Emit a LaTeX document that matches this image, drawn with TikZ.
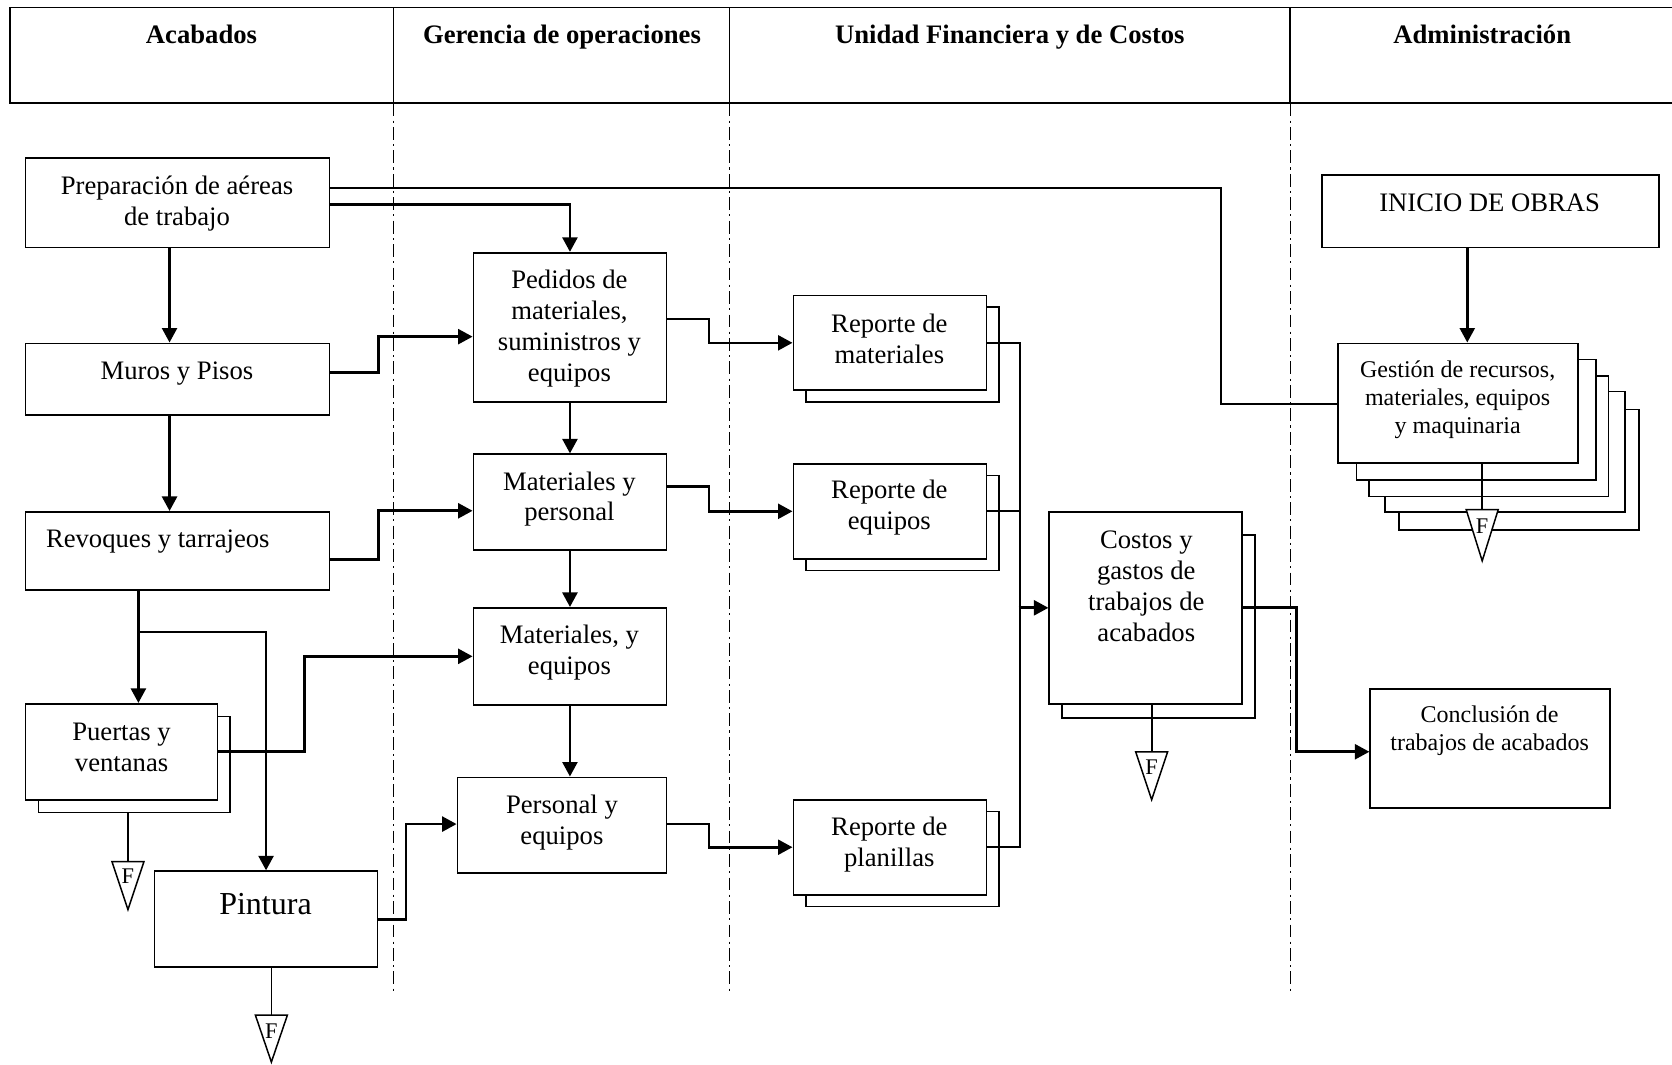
\documentclass[tikz,border=0pt]{standalone}
\usepackage{fontspec}
\setmainfont{Liberation Serif}
\usetikzlibrary{arrows.meta,calc}
\begin{document}
\begin{tikzpicture}[x=0.5pt,y=-0.5pt,
 box/.style={draw, fill=white, line width=0.8pt, inner sep=0pt},
 txt/.style={align=center, font=\fontsize{12.5}{14.5}\selectfont, inner sep=0pt},
 stxt/.style={align=center, font=\fontsize{11.25}{13}\selectfont, inner sep=0pt},
 hdr/.style={font=\fontsize{12.5}{14.5}\selectfont\bfseries, inner sep=0pt, anchor=base},
 arr/.style={line width=1.25pt, -{Triangle[length=6.8pt,width=7pt]}},
 thinl/.style={line width=0.8pt},
 lane/.style={line width=0.55pt, dash pattern=on 6pt off 2pt on 1pt off 2pt},
 tri/.style={draw, fill=white, line width=0.7pt},
 ftxt/.style={font=\fontsize{10.5}{12}\selectfont, inner sep=0pt}]
\useasboundingbox (0,0) rectangle (1568,998);

% lanes
\foreach \x in {369,684,1210}{
  \draw[line width=0.8pt] (\x,7) -- (\x,97);
  \draw[lane] (\x,97) -- (\x,930);
}
\draw[line width=0.9pt] (1568,7) -- (9,7) -- (9,97) -- (1568,97);
\node[hdr] (h1) at (189,41) {Acabados};
\node[hdr] (h2) at (527,41) {Gerencia de operaciones};
\node[hdr] (h3) at (947,41) {Unidad Financiera y de Costos};
\node[hdr] (h4) at (1390,41) {Administración};

% Acabados lane
\node[box, minimum width=142.5pt, minimum height=42pt] (prep) at (166.5,190) {};
\node[txt] (prep-t) at (166,191) {Preparación de aéreas\\de trabajo};
\node[box, minimum width=142.5pt, minimum height=33.5pt] (muros) at (166.5,355.5) {};
\node[txt] (muros-t) at (166,350) {Muros y Pisos};
\node[box, minimum width=142.5pt, minimum height=36.5pt] (revoq) at (166.5,516.5) {};
\node[txt] (revoq-t) at (148,508) {Revoques y tarrajeos};
\node[box, minimum width=90pt, minimum height=45pt] (puertas-b) at (126,717) {};
\node[box, minimum width=90pt, minimum height=45pt] (puertas) at (114,705) {};
\node[txt] (puertas-t) at (114,701) {Puertas y\\ventanas};
\node[box, minimum width=104.5pt, minimum height=45pt] (pintura) at (249.5,862) {};
\node[txt, font=\fontsize{15}{17}\selectfont] (pintura-t) at (249,848) {Pintura};

% Gerencia lane
\node[box, minimum width=90.5pt, minimum height=70pt] (pedidos) at (534.5,307) {};
\node[txt] (pedidos-t) at (534,308) {Pedidos de\\materiales,\\suministros y\\equipos};
\node[box, minimum width=90.5pt, minimum height=45pt] (matpers) at (534.5,471) {};
\node[txt] (matpers-t) at (534,468) {Materiales y\\personal};
\node[box, minimum width=90.5pt, minimum height=45.5pt] (mateq) at (534.5,615.5) {};
\node[txt] (mateq-t) at (534,612) {Materiales, y\\equipos};
\node[box, minimum width=98pt, minimum height=45pt] (perseq) at (527,774) {};
\node[txt] (perseq-t) at (527,771) {Personal y\\equipos};

% Unidad financiera lane
\node[box, minimum width=90.5pt, minimum height=44.5pt] (repmat-b) at (846.5,332.5) {};
\node[box, minimum width=90.5pt, minimum height=44.5pt] (repmat) at (834.5,321.5) {};
\node[txt] (repmat-t) at (834,317.5) {Reporte de\\materiales};
\node[box, minimum width=90.5pt, minimum height=44.5pt] (repeq-b) at (846.5,490.5) {};
\node[box, minimum width=90.5pt, minimum height=44.5pt] (repeq) at (834.5,479.5) {};
\node[txt] (repeq-t) at (834,476) {Reporte de\\equipos};
\node[box, minimum width=90.5pt, minimum height=44.5pt] (repplan-b) at (846.5,805.5) {};
\node[box, minimum width=90.5pt, minimum height=44.5pt] (repplan) at (834.5,794.5) {};
\node[txt] (repplan-t) at (834,792) {Reporte de\\planillas};
\node[box, minimum width=90.5pt, minimum height=85.5pt] (costos-b) at (1086.5,587.5) {};
\node[box, minimum width=90.5pt, minimum height=90pt] (costos) at (1074.5,570) {};
\node[txt] (costos-t) at (1075,549.5) {Costos y\\gastos de\\trabajos de\\acabados};

% Administracion lane
\node[box, minimum width=158pt, minimum height=34pt] (inicio) at (1398,198) {};
\node[txt] (inicio-t) at (1397,190.5) {INICIO DE OBRAS};
\node[box, minimum width=112.5pt, minimum height=56.5pt] (gestion-b4) at (1424.5,440.5) {};
\node[box, minimum width=112.5pt, minimum height=56.5pt] (gestion-b3) at (1411.5,423.5) {};
\node[box, minimum width=112.5pt, minimum height=56.5pt] (gestion-b2) at (1396,409) {};
\node[box, minimum width=112.5pt, minimum height=56.5pt] (gestion-b1) at (1384.5,393.5) {};
\node[box, minimum width=112.5pt, minimum height=56pt] (gestion) at (1367.5,378) {};
\node[stxt] (gestion-t) at (1367,375) {Gestión de recursos,\\materiales, equipos\\y maquinaria};
\node[box, minimum width=112.5pt, minimum height=56pt] (concl) at (1397.5,702) {};
\node[stxt] (concl-t) at (1397,685) {Conclusión de\\trabajos de acabados};

% connectors
\draw[arr] ([xshift=-3.75pt]prep.south) -- ([xshift=-3.75pt]muros.north);
\draw[arr] ([xshift=-3.75pt]muros.south) -- ([xshift=-3.75pt]revoq.north);
\draw[arr] ([yshift=-0.8pt]prep.east) -| (pedidos.north);
\draw[thinl] ([yshift=6.7pt]prep.east) -| ([xshift=-54.5pt,yshift=-0.5pt]gestion.west) -- ([yshift=-0.5pt]gestion.west);
\draw[arr] ([yshift=3pt]muros.east) -- ++(22.5pt,0pt) |- ([yshift=-4.35pt]pedidos.west);
\draw[arr] ([yshift=-4pt]revoq.east) -- ++(22.5pt,0pt) |- ([yshift=-4pt]matpers.west);
\draw[arr] ([xshift=-18.35pt]revoq.south) -- ([xshift=-18.35pt]revoq.south |- puertas.north);
\draw[arr] ([xshift=-18.35pt,yshift=-19.5pt]revoq.south) -| (pintura.north);
\draw[arr] (puertas.east) -- ++(40.35pt,0pt) |- (mateq.west);
\draw[arr] (pintura.east) -- ++(13pt,0pt) |- ([yshift=0.6pt]perseq.west);
\draw[arr] (pedidos.south) -- (matpers.north);
\draw[arr] (matpers.south) -- (mateq.north);
\draw[arr] (mateq.south) -- (mateq.south |- perseq.north);
\draw[arr] ([yshift=4pt]pedidos.east) -- ++(19.5pt,0pt) |- (repmat.west);
\draw[arr] ([yshift=7.3pt]matpers.east) -- ++(19.5pt,0pt) |- (repeq.west);
\draw[arr] ([yshift=0.6pt]perseq.east) -- ++(19.5pt,0pt) |- (repplan.west);
\draw[thinl] (repmat.east) -- ++(15.5pt,0pt) |- (repplan.east);
\draw[thinl] (repeq.east) -- ++(15.5pt,0pt);
\draw[arr] ([xshift=-14pt]costos.west) -- (costos.west);
\draw[arr] (costos.east) -- ++(25pt,0pt) |- ([yshift=-1.5pt]concl.west);
\draw[arr] ([xshift=-11pt]inicio.south) -- ([xshift=-11pt]inicio.south |- gestion.north);

% F terminators
\coordinate (ft1) at (120,808);
\coordinate (ft2) at (254.5,952);
\coordinate (ft3) at (1080,705);
\coordinate (ft4) at (1390,478);
\draw[thinl] (puertas-b.south -| ft1) -- (ft1);
\draw[thinl] (pintura.south -| ft2) -- (ft2);
\draw[thinl] (costos.south -| ft3) -- (ft3);
\draw[thinl] (gestion.south -| ft4) -- (ft4);
\draw[tri] (ft1) ++(-15,0) -- ++(30,0) -- ++(-15,45) -- cycle;
\draw[tri] (ft2) ++(-15,0) -- ++(30,0) -- ++(-15,44) -- cycle;
\draw[tri] (ft3) ++(-15,0) -- ++(30,0) -- ++(-15,45) -- cycle;
\draw[tri] (ft4) ++(-15,0) -- ++(30,0) -- ++(-15,48) -- cycle;
\node[ftxt] (f1) at ($(ft1)+(0,14)$) {F};
\node[ftxt] (f2) at ($(ft2)+(0,15)$) {F};
\node[ftxt] (f3) at ($(ft3)+(0,14)$) {F};
\node[ftxt] (f4) at ($(ft4)+(0,15)$) {F};
\end{tikzpicture}
\end{document}
